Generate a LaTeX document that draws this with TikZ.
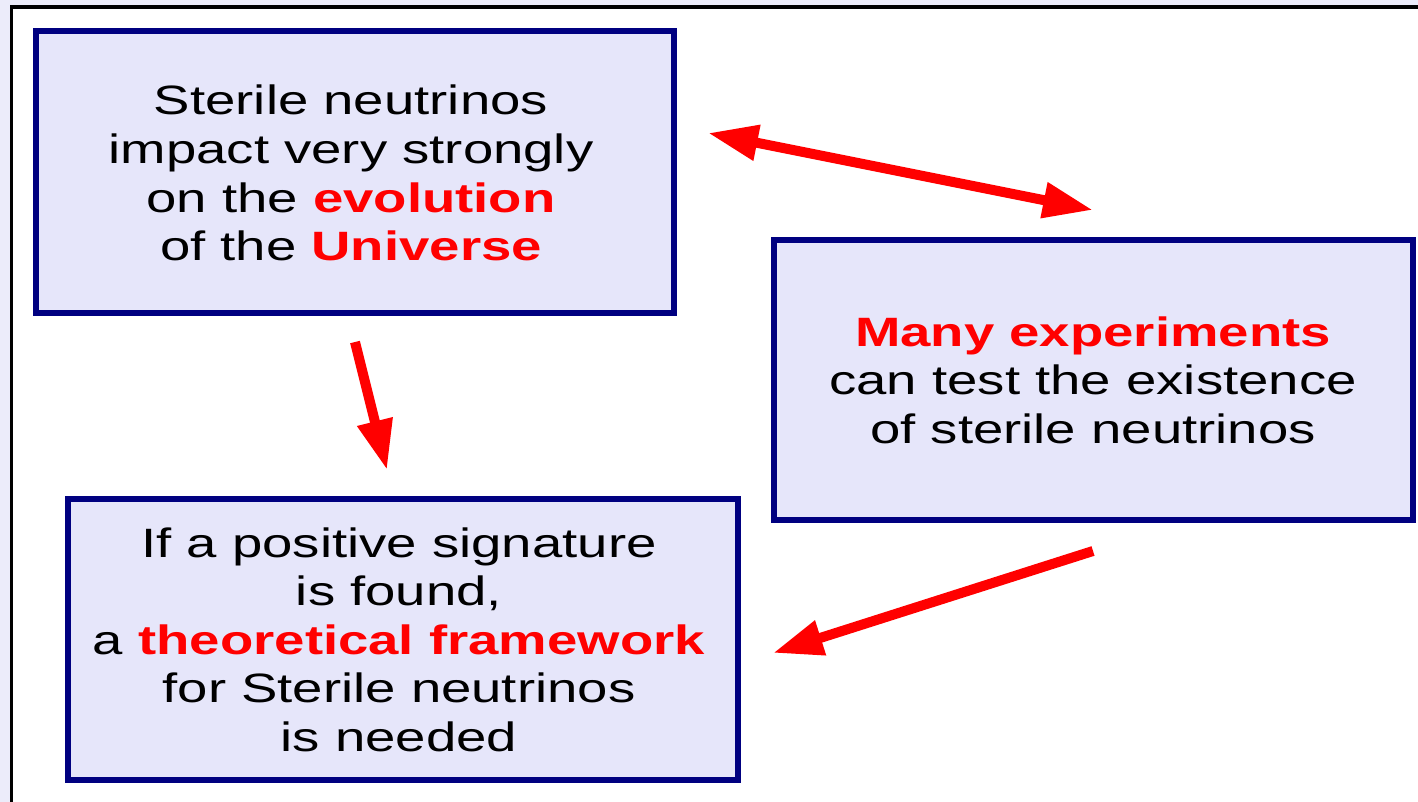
\documentclass[tikz,border=0pt]{standalone}
\usepackage{fontspec}
\setmainfont{Liberation Sans}
\usetikzlibrary{arrows.meta}
\definecolor{boxfill}{RGB}{230,230,250}
\definecolor{boxline}{RGB}{0,0,128}
\definecolor{outerbg}{RGB}{236,236,250}
\definecolor{hl}{RGB}{255,0,0}
\newcommand{\hlt}[1]{\textcolor{hl}{\textbf{#1}}}
\newcommand{\wtext}[1]{\scalebox{1.33}[1]{\fontsize{20.5}{24.3}\selectfont\begin{tabular}[t]{@{}c@{}}#1\end{tabular}}}
\tikzset{
  panel/.style={draw=boxline, line width=2.8pt, fill=boxfill, inner sep=0pt},
  txt/.style={anchor=base, inner sep=0pt},
  bigarrow/.style={draw=hl, line width=5pt, -{Triangle[length=25pt,width=17pt]}},
  bigarrowboth/.style={draw=hl, line width=5pt, {Triangle[length=25pt,width=17pt]}-{Triangle[length=25pt,width=17pt]}}
}
\begin{document}
\begin{tikzpicture}[x=0.5pt,y=-0.5pt]
\useasboundingbox (0,0) rectangle (1418,802);
\clip (0,0) rectangle (1418,802);
\fill[outerbg] (0,0) rectangle (1418,802);
\draw[black, line width=1.6pt, fill=white] (11.5,7) rectangle (1440,830);

\node[panel, minimum width=319pt, minimum height=141pt] (b1) at (355,172) {};
\node[panel, minimum width=319.5pt, minimum height=140pt] (b2) at (1093.5,380) {};
\node[panel, minimum width=335pt, minimum height=140.5pt] (b3) at (403,639.5) {};

\node[txt] (t1) at (351,115) {\wtext{Sterile neutrinos\\ impact very strongly\\ on the \hlt{evolution}\\ of the \hlt{Universe}}};
\node[txt] (t2) at (1093,346) {\wtext{\hlt{Many experiments}\\ can test the existence\\ of sterile neutrinos}};
\node[txt] (t3) at (399,557) {\wtext{If a positive signature\\ is found,\\ a \hlt{theoretical framework}\\ for Sterile neutrinos\\ is needed}};

\coordinate (a1s) at (708,133);
\coordinate (a1e) at (1093,210);
\coordinate (a2s) at (355,342);
\coordinate (a2e) at (387,470);
\coordinate (a3s) at (1093,551);
\coordinate (a3e) at (773,653);
\draw[bigarrowboth] (a1s) -- (a1e);
\draw[bigarrow] (a2s) -- (a2e);
\draw[bigarrow] (a3s) -- (a3e);
\end{tikzpicture}
\end{document}
